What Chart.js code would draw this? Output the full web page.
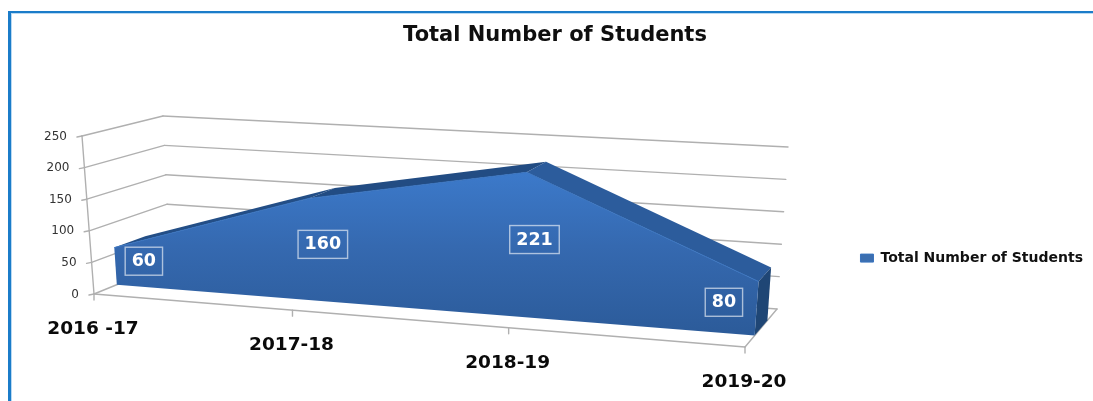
<!DOCTYPE html>
<html><head><meta charset="utf-8">
<script src="https://cdn.jsdelivr.net/npm/chart.js@4/dist/chart.umd.min.js"></script>
<style>
html,body{margin:0;padding:0;background:#fff;overflow:hidden}
#frame{position:absolute;left:8px;top:11px;right:0;bottom:0;border-left:3px solid #1b7cc9;border-top:2.5px solid #1b7cc9;box-shadow:inset 1px 1px 0 #b9d9f2}
#c{position:absolute;left:0;top:0;filter:blur(0.45px)}
</style></head><body>
<div id="frame"></div>
<canvas id="c" width="1093" height="401"></canvas>
<script>
const titleText = 'Total Number of Students';
const seriesName = 'Total Number of Students';
const categories = ['2016 -17', '2017-18', '2018-19', '2019-20'];
const students = [60, 160, 221, 80];
const yMax = 250;
const yStep = 50;

/* perspective box of the 3-D view: floor corners and wall height vectors */
const box = {
  FL:[94,294], FR:[745,347], BL:[170,263], BR:[777,309],
  hFL:[-12,-158], hFR:[13,-172], hBL:[-7,-147], hBR:[11,-162],
  persp:1.14, front:0.3, back:0.7
};
const labelShift = [13, 0, 0, -39];
const lerp = (a,b,t)=>a+(b-a)*t;
const bil = (f,g,b,r,t,d,i)=>lerp(lerp(f[i],g[i],t),lerp(b[i],r[i],t),d);

function project(chart, xVal, yVal, d){
  const sx = chart.scales.x, sy = chart.scales.y;
  const u = (sx.getPixelForValue(xVal) - sx.left) / sx.width;
  const v = (sy.bottom - sy.getPixelForValue(yVal)) / sy.height;
  const t = u / (u + box.persp * (1 - u));
  const p = i => bil(box.FL,box.FR,box.BL,box.BR,t,d,i) + v * bil(box.hFL,box.hFR,box.hBL,box.hBR,t,d,i);
  return {x:p(0), y:p(1)};
}
function poly(ctx, pts, fill){
  ctx.beginPath();
  pts.forEach((p,i)=> i ? ctx.lineTo(p.x,p.y) : ctx.moveTo(p.x,p.y));
  ctx.closePath();
  ctx.fillStyle = fill; ctx.fill();
}
function seg(ctx,a,b){ ctx.beginPath(); ctx.moveTo(a.x,a.y); ctx.lineTo(b.x,b.y); ctx.stroke(); }

const scene3d = {
  id:'scene3d',
  beforeDatasetsDraw(chart){
    const ctx = chart.ctx, n = categories.length, last = n-1;
    const P = (i,v,d)=>project(chart,i,v,d);
    ctx.save();
    /* walls, floor, ticks */
    ctx.strokeStyle = '#b0b0b0'; ctx.lineWidth = 1.4; ctx.lineCap='round';
    chart.scales.y.ticks.forEach(tk=>{
      seg(ctx,P(0,tk.value,0),P(0,tk.value,1));
      seg(ctx,P(0,tk.value,1),P(last,tk.value,1));
      const a = P(0,tk.value,0);
      seg(ctx,a,{x:a.x-5,y:a.y+1});
      ctx.fillStyle='#333'; ctx.font='12px "DejaVu Sans"';
      ctx.textAlign='right'; ctx.textBaseline='middle';
      ctx.fillText(String(tk.value), a.x-15, a.y+0.5);
    });
    seg(ctx,P(0,0,0),P(0,yMax,0));
    seg(ctx,P(0,0,0),P(last,0,0));
    seg(ctx,P(last,0,0),P(last,0,1));
    categories.forEach((c,i)=>{
      const a = P(i,0,0);
      seg(ctx,a,{x:a.x,y:a.y+6});
      ctx.fillStyle='#0a0a0a'; ctx.font='bold 18.5px "DejaVu Sans"';
      ctx.textAlign='center'; ctx.textBaseline='middle';
      ctx.fillText(c, a.x-1, a.y+35);
    });
    /* top faces and right end, back to front */
    const topCols = ['#234e86','#224c83','#2c5c9c'];
    for(let i=0;i<last;i++){
      poly(ctx,[P(i,students[i],box.front),P(i+1,students[i+1],box.front),
                P(i+1,students[i+1],box.back),P(i,students[i],box.back)],topCols[i]);
    }
    poly(ctx,[P(last,0,box.front),P(last,students[last],box.front),
              P(last,students[last],box.back),P(last,0,box.back)],'#1f4675');
    /* front face */
    const g = ctx.createLinearGradient(0,170,0,340);
    g.addColorStop(0,'#3c7acb'); g.addColorStop(0.45,'#3569b0'); g.addColorStop(1,'#2b5a98');
    const front=[P(0,0,box.front)];
    students.forEach((v,i)=>front.push(P(i,v,box.front)));
    front.push(P(last,0,box.front));
    poly(ctx,front,g);
    ctx.restore();
    /* the library's own line element follows the projected front edge */
    chart.getDatasetMeta(0).data.forEach((pt,i)=>{
      const q = P(i,students[i],box.front); pt.x=q.x; pt.y=q.y;
    });
  },
  afterDatasetsDraw(chart){
    const ctx = chart.ctx;
    ctx.save();
    ctx.font='bold 17.5px "DejaVu Sans"';
    ctx.textAlign='center'; ctx.textBaseline='middle';
    students.forEach((v,i)=>{
      const q = project(chart,i,v/2,0.5);
      const x = q.x+labelShift[i], y=q.y+1;
      const w = ctx.measureText(String(v)).width+13, h=28;
      ctx.strokeStyle='rgba(255,255,255,0.6)'; ctx.lineWidth=1.4;
      ctx.strokeRect(x-w/2,y-h/2,w,h);
      ctx.fillStyle='#fff';
      ctx.fillText(String(v),x,y+0.5);
    });
    ctx.restore();
  }
};

new Chart(document.getElementById('c'),{
  type:'line',
  data:{labels:categories,datasets:[{
    label:seriesName,data:students,fill:false,tension:0,pointRadius:0,
    borderColor:'#3a74bf',borderWidth:1,backgroundColor:'#3c6fb0',clip:false
  }]},
  plugins:[scene3d],
  options:{
    responsive:false,animation:false,
    layout:{padding:{left:17,right:0,top:0,bottom:0}},
    events:[],
    scales:{
      x:{type:'category',display:false,offset:false},
      y:{type:'linear',display:false,min:0,max:yMax,ticks:{stepSize:yStep}}
    },
    plugins:{
      tooltip:{enabled:false},
      title:{display:true,text:titleText,color:'#0f0f0f',
        font:{family:'"DejaVu Sans"',size:21,weight:'bold'},padding:{top:23,bottom:67}},
      legend:{display:true,position:'right',fullSize:false,
        labels:{color:'#111',font:{family:'"DejaVu Sans"',size:14,weight:'bold'},
          boxWidth:13,boxHeight:8,padding:4}}
    }
  }
});
</script>
</body></html>
